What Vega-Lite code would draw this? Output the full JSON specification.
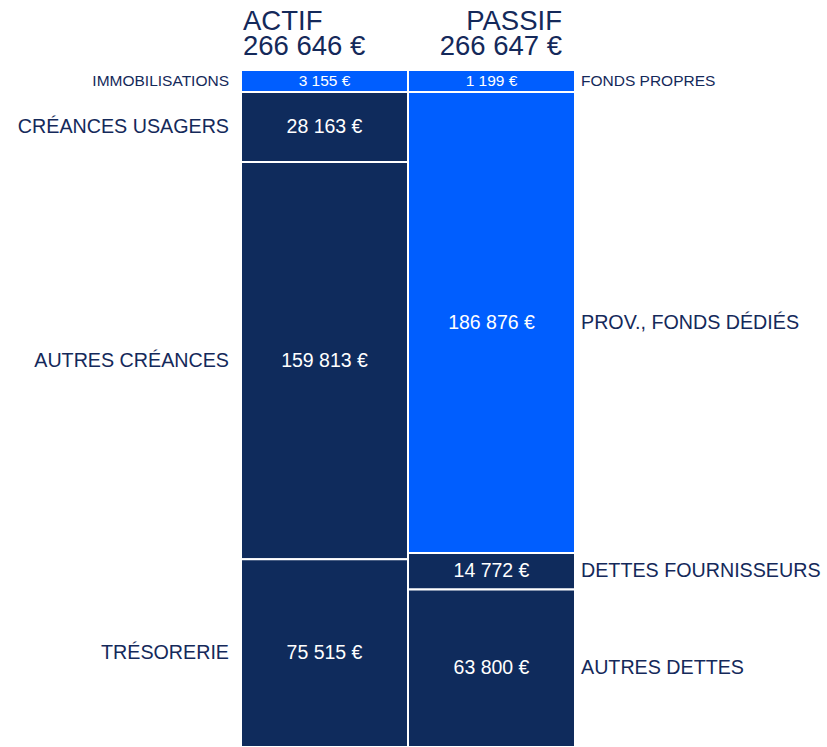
{
  "$schema": "https://vega.github.io/schema/vega-lite/v6.json",
  "width": 827,
  "height": 747,
  "padding": 0,
  "autosize": "none",
  "config": {"view": {"stroke": null}, "font": "Liberation Sans"},
  "data": {
    "values": [
      {"side": "ACTIF", "poste": "IMMOBILISATIONS", "ordre": 1, "bloc": "haut", "value": 3155},
      {"side": "ACTIF", "poste": "CRÉANCES USAGERS", "ordre": 2, "bloc": "bas", "value": 28163},
      {"side": "ACTIF", "poste": "AUTRES CRÉANCES", "ordre": 3, "bloc": "bas", "value": 159813},
      {"side": "ACTIF", "poste": "TRÉSORERIE", "ordre": 4, "bloc": "bas", "value": 75515},
      {"side": "PASSIF", "poste": "FONDS PROPRES", "ordre": 1, "bloc": "haut", "value": 1199},
      {"side": "PASSIF", "poste": "PROV., FONDS DÉDIÉS", "ordre": 2, "bloc": "haut", "value": 186876},
      {"side": "PASSIF", "poste": "DETTES FOURNISSEURS", "ordre": 3, "bloc": "bas", "value": 14772},
      {"side": "PASSIF", "poste": "AUTRES DETTES", "ordre": 4, "bloc": "bas", "value": 63800}
    ]
  },
  "transform": [
    {"joinaggregate": [{"op": "sum", "field": "value", "as": "total"}], "groupby": ["side"]},
    {"calculate": "max(datum.value, datum.total * 0.0333)", "as": "disp"},
    {"stack": "disp", "groupby": ["side"], "sort": [{"field": "ordre", "order": "ascending"}], "offset": "normalize", "as": ["y0", "y1"]},
    {"calculate": "(datum.y0 + datum.y1) / 2", "as": "mid"},
    {"calculate": "replace(format(datum.value, ','), ',', ' ') + ' €'", "as": "lbl"},
    {"calculate": "datum.value < datum.total * 0.02", "as": "small"}
  ],
  "encoding": {
    "x": {"field": "side", "type": "nominal", "axis": null,
      "scale": {"domain": ["ACTIF", "PASSIF"], "range": [241, 575], "paddingInner": 0, "paddingOuter": 0}}
  },
  "layer": [
    {
      "mark": {"type": "bar", "stroke": "white", "strokeWidth": 2},
      "encoding": {
        "y": {"field": "y0", "type": "quantitative", "axis": null, "scale": {"domain": [0, 1], "range": [70, 747]}},
        "y2": {"field": "y1"},
        "color": {"field": "bloc", "type": "nominal", "legend": null,
          "scale": {"domain": ["haut", "bas"], "range": ["#005eff", "#0f2b5c"]}}
      }
    },
    {
      "mark": {"type": "text", "color": "white", "align": "center", "baseline": "middle"},
      "encoding": {
        "y": {"field": "mid", "type": "quantitative"},
        "text": {"field": "lbl", "type": "nominal"},
        "size": {"condition": {"test": "datum.small", "value": 15.5}, "value": 19.5}
      }
    },
    {
      "transform": [{"filter": "datum.side == 'ACTIF'"}],
      "mark": {"type": "text", "color": "#14295a", "align": "right", "baseline": "middle", "dx": -12},
      "encoding": {
        "x": {"field": "side", "type": "nominal", "bandPosition": 0},
        "y": {"field": "mid", "type": "quantitative"},
        "text": {"field": "poste", "type": "nominal"},
        "size": {"condition": {"test": "datum.small", "value": 15.5}, "value": 19.7}
      }
    },
    {
      "transform": [{"filter": "datum.side == 'PASSIF'"}],
      "mark": {"type": "text", "color": "#14295a", "align": "left", "baseline": "middle", "dx": 6},
      "encoding": {
        "x": {"field": "side", "type": "nominal", "bandPosition": 1},
        "y": {"field": "mid", "type": "quantitative"},
        "text": {"field": "poste", "type": "nominal"},
        "size": {"condition": {"test": "datum.small", "value": 15.5}, "value": 19.7}
      }
    },
    {
      "transform": [
        {"aggregate": [{"op": "sum", "field": "value", "as": "tot"}], "groupby": ["side"]},
        {"calculate": "[datum.side, replace(format(datum.tot, ','), ',', ' ') + ' €']", "as": "hdr"},
        {"calculate": "-0.0591", "as": "hy"},
        {"filter": "datum.side == 'ACTIF'"}
      ],
      "mark": {"type": "text", "color": "#14295a", "align": "left", "baseline": "alphabetic", "dx": 2, "fontSize": 27.5, "lineHeight": 25},
      "encoding": {
        "x": {"field": "side", "type": "nominal", "bandPosition": 0},
        "y": {"field": "hy", "type": "quantitative"},
        "text": {"field": "hdr", "type": "nominal"}
      }
    },
    {
      "transform": [
        {"aggregate": [{"op": "sum", "field": "value", "as": "tot"}], "groupby": ["side"]},
        {"calculate": "[datum.side, replace(format(datum.tot, ','), ',', ' ') + ' €']", "as": "hdr"},
        {"calculate": "-0.0591", "as": "hy"},
        {"filter": "datum.side == 'PASSIF'"}
      ],
      "mark": {"type": "text", "color": "#14295a", "align": "right", "baseline": "alphabetic", "dx": -13, "fontSize": 27.5, "lineHeight": 25},
      "encoding": {
        "x": {"field": "side", "type": "nominal", "bandPosition": 1},
        "y": {"field": "hy", "type": "quantitative"},
        "text": {"field": "hdr", "type": "nominal"}
      }
    }
  ]
}
